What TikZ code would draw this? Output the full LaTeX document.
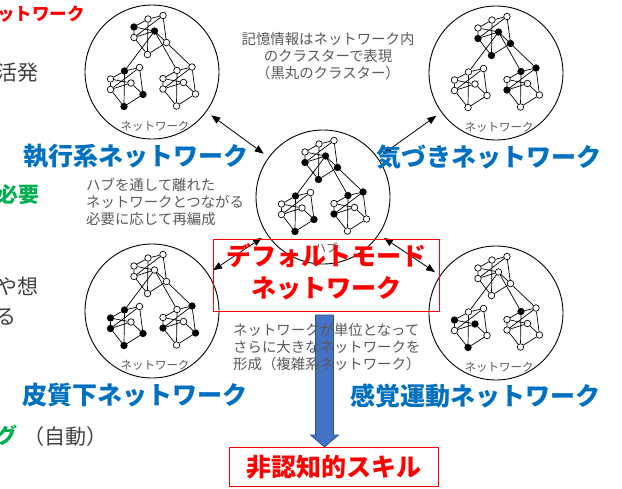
\documentclass[tikz,border=0pt]{standalone}
\usepackage{fontspec}
\setmainfont{Noto Sans CJK JP}
\usetikzlibrary{arrows.meta,backgrounds}

\definecolor{dmnred}{HTML}{FF0000}
\definecolor{netblue}{HTML}{0070C0}
\definecolor{keygreen}{HTML}{00B050}
\definecolor{bodygray}{HTML}{404040}
\definecolor{notegray}{HTML}{595959}
\definecolor{arrowfill}{HTML}{4472C4}
\definecolor{arrowline}{HTML}{2F528F}

\tikzset{
  ring/.style={circle, draw, line width=0.9pt, minimum size=134pt, inner sep=0pt},
  dotO/.style={circle, draw, fill=white, line width=0.7pt, minimum size=6.5pt, inner sep=0pt},
  dotF/.style={dotO, fill=black},
  edge/.style={line width=0.7pt},
  link/.style={line width=0.8pt, {Triangle[length=9pt,width=7pt]}-{Triangle[length=9pt,width=7pt]},
    shorten <=6pt, shorten >=6pt},
  netlabel/.style={inner sep=0pt, text=netblue, font=\bfseries\fontsize{25pt}{30pt}\selectfont},
  redtitle/.style={inner sep=0pt, text=dmnred, font=\bfseries\fontsize{25pt}{32pt}\selectfont, align=center},
  redbox/.style={draw=dmnred, line width=1pt, inner sep=0pt},
  bigtext/.style={inner sep=0pt, text=bodygray, font=\fontsize{21pt}{24pt}\selectfont},
  greentext/.style={inner sep=0pt, text=keygreen, font=\bfseries\fontsize{21pt}{24pt}\selectfont},
  note/.style={inner sep=0pt, text=notegray, font=\fontsize{14.4pt}{17.3pt}\selectfont},
  ringlabel/.style={inner sep=0pt, text=notegray, font=\fontsize{11.5pt}{13pt}\selectfont},
}

% one cluster of seven dots: #1 name prefix, #2 offset, #3..#9 dot styles
\newcommand\cluster[9]{%
  \begin{scope}[shift={#2}]
    \node[#3] (#1-1) at (0,0) {};
    \node[#4] (#1-2) at (14,-8) {};
    \node[#5] (#1-3) at (29,-11.5) {};
    \node[#6] (#1-4) at (20.5,4) {};
    \node[#7] (#1-5) at (0,10.5) {};
    \node[#8] (#1-6) at (32.5,15.5) {};
    \node[#9] (#1-7) at (13.5,27.5) {};
  \end{scope}}

% links inside one cluster
\newcommand\clusteredges[1]{%
  \draw[edge] (#1-1)--(#1-2) (#1-2)--(#1-3) (#1-1)--(#1-5) (#1-3)--(#1-6)
    (#1-5)--(#1-7) (#1-7)--(#1-6) (#1-2)--(#1-7) (#1-5)--(#1-3)
    (#1-5)--(#1-4) (#1-1)--(#1-4) (#1-4)--(#1-6);}

% links of a whole network: three clusters plus the bridges
\newcommand\netedges[1]{%
  \begin{pgfonlayer}{background}
    \clusteredges{#1T}\clusteredges{#1L}\clusteredges{#1R}
    \draw[edge] (#1T-4)--(#1L-2) (#1T-4)--(#1R-2) (#1T-6)--(#1R-3);
  \end{pgfonlayer}}

\begin{document}
\begin{tikzpicture}[x=1pt,y=-1pt]
\useasboundingbox (0,0) rectangle (622,488);
\clip (0,0) rectangle (622,488);

% ---------- text at the left margin ----------
\node[inner sep=0pt, text=dmnred, font=\bfseries\fontsize{17.5pt}{20pt}\selectfont, anchor=east]
  (cuttitle) at (85,14.5) {ットワーク};
\node[bigtext, anchor=east] (lively) at (38.5,73) {活発};
\node[greentext, anchor=east] (need) at (40,195) {必要};
\node[bigtext, anchor=east] (imagine) at (39,286) {や想};
\node[bigtext, anchor=east] (suru) at (17,317) {る};
\node[greentext, anchor=east] (autog) at (18,435) {グ};
\node[bigtext, anchor=west] (auto) at (23,437) {（自動）};

% ---------- the five networks ----------
% executive (top left)
\node[ring] (tl) at (152,72) {};
\begin{scope}[shift={(152,72)}]
  \cluster{aT}{(-18,-45)}{dotF}{dotO}{dotO}{dotF}{dotO}{dotO}{dotO}
  \cluster{aL}{(-41.5,7)}{dotO}{dotF}{dotO}{dotO}{dotO}{dotF}{dotF}
  \cluster{aR}{(11,6.5)}{dotO}{dotO}{dotO}{dotO}{dotO}{dotO}{dotO}
\end{scope}
\netedges{a}
\node[ringlabel] (tllab) at (155,126) {ネットワーク};

% salience (top right)
\node[ring] (tr) at (496,73) {};
\begin{scope}[shift={(496,73)}]
  \cluster{bT}{(-18,-45)}{dotO}{dotO}{dotO}{dotF}{dotF}{dotF}{dotF}
  \cluster{bL}{(-41.5,7)}{dotO}{dotO}{dotO}{dotO}{dotO}{dotO}{dotO}
  \cluster{bR}{(11,6.5)}{dotO}{dotF}{dotF}{dotO}{dotF}{dotO}{dotO}
\end{scope}
\netedges{b}
\node[ringlabel] (trlab) at (499,127) {ネットワーク};

% hub (centre)
\node[ring] (hub) at (323,197) {};
\begin{scope}[shift={(323,197)}]
  \cluster{cT}{(-18,-45)}{dotO}{dotO}{dotO}{dotF}{dotF}{dotF}{dotF}
  \cluster{cL}{(-41.5,7)}{dotO}{dotF}{dotO}{dotO}{dotO}{dotF}{dotF}
  \cluster{cR}{(11,6.5)}{dotO}{dotF}{dotF}{dotO}{dotF}{dotO}{dotO}
\end{scope}
\netedges{c}
\node[ringlabel] (hublab) at (326,248) {ハブ};

% subcortical (bottom left)
\node[ring] (bl) at (152,311) {};
\begin{scope}[shift={(152,311)}]
  \cluster{dT}{(-18,-45)}{dotO}{dotO}{dotO}{dotO}{dotO}{dotO}{dotO}
  \cluster{dL}{(-41.5,7)}{dotF}{dotF}{dotO}{dotO}{dotF}{dotF}{dotF}
  \cluster{dR}{(11,6.5)}{dotO}{dotO}{dotF}{dotO}{dotF}{dotF}{dotO}
\end{scope}
\netedges{d}
\node[ringlabel] (bllab) at (155,365) {ネットワーク};

% sensorimotor (bottom right)
\node[ring] (br) at (496,313) {};
\begin{scope}[shift={(496,313)}]
  \cluster{eT}{(-18,-45)}{dotO}{dotO}{dotO}{dotO}{dotO}{dotO}{dotO}
  \cluster{eL}{(-41.5,7)}{dotF}{dotO}{dotO}{dotF}{dotO}{dotO}{dotF}
  \cluster{eR}{(11,6.5)}{dotO}{dotF}{dotO}{dotO}{dotO}{dotO}{dotO}
\end{scope}
\netedges{e}
\node[ringlabel] (brlab) at (499,367) {ネットワーク};

% links between the hub and the other networks
\draw[link] (tl) -- (hub);
\draw[link] (tr) -- (hub);
\draw[link] (bl) -- (hub);
\draw[link] (br) -- (hub);

% ---------- network names ----------
\node[netlabel] (exec) at (136,156) {執行系ネットワーク};
\node[netlabel] (aware) at (489,157) {気づきネットワーク};
\node[netlabel] (subc) at (135.5,395) {皮質下ネットワーク};
\node[netlabel] (senso) at (475.5,396) {感覚運動ネットワーク};

% ---------- default mode network box ----------
\node[redbox, minimum width=226pt, minimum height=72pt] (dmn) at (326,275) {};
\node[redtitle] (dmntext) at (326,272) {デフォルトモード\\ネットワーク};

% ---------- result box and the block arrow into it ----------
\node[redbox, minimum width=209pt, minimum height=39.5pt, text=dmnred,
  font=\bfseries\fontsize{25pt}{30pt}\selectfont] (skill) at (333.5,466.75) {非認知的スキル};
\fill[arrowfill, draw=arrowline, line width=0.8pt]
  (315.5,315) -- (333.5,315) -- (333.5,435) -- (338.5,435) -- (324.5,447)
  -- (310.5,435) -- (315.5,435) -- cycle;

% ---------- explanatory notes ----------
\node[note, align=center] (memo) at (328,56)
  {記憶情報はネットワーク内\\のクラスターで表現\\（黒丸のクラスター）};
\node[note, align=left, anchor=west] (hubnote) at (86,202)
  {ハブを通して離れた\\ネットワークとつながる\\必要に応じて再編成};
\node[note, align=left, anchor=west] (complex) at (233,347)
  {ネットワークが単位となって\\さらに大きなネットワークを\\形成（複雑系ネットワーク）};
\end{tikzpicture}
\end{document}
